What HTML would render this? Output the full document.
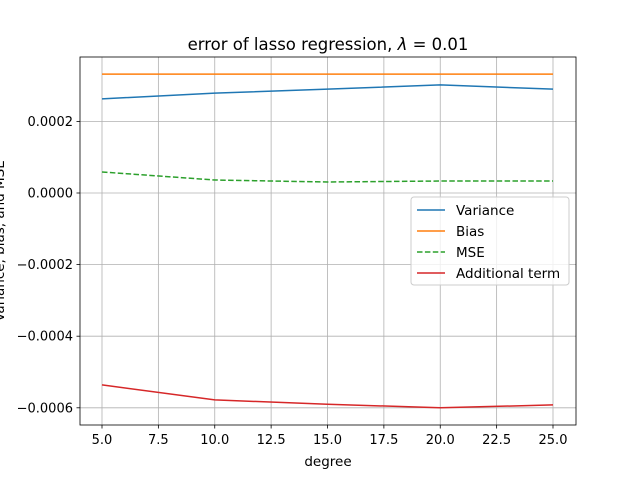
<!DOCTYPE html>
<html><head><meta charset="utf-8"><style>
body{margin:0;background:#fff;}
svg text{font-family:"DejaVu Sans","Liberation Sans",sans-serif;}
</style></head><body>
<svg id="chart" width="640" height="478" xmlns="http://www.w3.org/2000/svg">
<rect width="640" height="478" fill="#fff"/>
<g id="grid"></g>
<g id="series"></g>
<rect x="80" y="57" width="496" height="368" fill="none" stroke="#000" stroke-width="0.8"/>
<g id="axes"></g>
<text x="328" y="50" text-anchor="middle" font-size="16.5">error of lasso regression, <tspan font-style="italic">λ</tspan> = 0.01</text>
<text x="328" y="466" text-anchor="middle" font-size="13.5">degree</text>
<text transform="translate(4,241) rotate(-90)" text-anchor="middle" font-size="13.5">Variance, bias, and MSE</text>
<g>
<rect x="411" y="197" width="158" height="88" rx="3" fill="#fff" fill-opacity="0.8" stroke="#ccc"/>
<g id="legend-items"></g>
</g>
</svg>
<script>
const degrees=[5,10,15,20,25];
const variance=[0.000263,0.000279,0.000290,0.000302,0.000290];
const bias=[0.000332,0.000332,0.000332,0.000332,0.000332];
const mse=[0.0000587,0.0000363,0.0000307,0.0000335,0.0000335];
const additional=[-0.000536,-0.000578,-0.000590,-0.000600,-0.000592];
const xTicks=[5,7.5,10,12.5,15,17.5,20,22.5,25];
const xTickLabels=["5.0","7.5","10.0","12.5","15.0","17.5","20.0","22.5","25.0"];
const yTicks=[0.0002,0,-0.0002,-0.0004,-0.0006];
const yTickLabels=["0.0002","0.0000","\u22120.0002","\u22120.0004","\u22120.0006"];
const seriesNames=["Variance","Bias","MSE","Additional term"];
const NS="http://www.w3.org/2000/svg";
const X=v=>102+(v-5)*(451/20);
const Y=v=>193-v/0.0002*71.6;
function mk(t,a,p){const e=document.createElementNS(NS,t);for(const k in a)e.setAttribute(k,a[k]);p.appendChild(e);return e;}
const grid=document.getElementById('grid'),axes=document.getElementById('axes');
xTicks.forEach((t,i)=>{
 const g=mk('line',{x1:X(t),x2:X(t),y1:57,y2:425,stroke:'#b0b0b0','stroke-width':0.8},grid);
 
 
 mk('line',{x1:X(t),x2:X(t),y1:425,y2:428.5,stroke:'#000','stroke-width':0.8},axes);
 const tx=mk('text',{x:X(t),y:444,'text-anchor':'middle','font-size':13},axes);
 tx.textContent=xTickLabels[i];
 
 
});
yTicks.forEach((t,i)=>{
 const g=mk('line',{x1:80,x2:576,y1:Y(t),y2:Y(t),stroke:'#b0b0b0','stroke-width':0.8},grid);
 
 
 mk('line',{x1:76.5,x2:80,y1:Y(t),y2:Y(t),stroke:'#000','stroke-width':0.8},axes);
 const tx=mk('text',{x:73,y:Y(t)+4.5,'text-anchor':'end','font-size':13},axes);
 tx.textContent=yTickLabels[i];
 
 
});
const all=[variance,bias,mse,additional];
const colors=['#1f77b4','#ff7f0e','#2ca02c','#d62728'];
const dashes=['','','5.5,2.4',''];
const names=['variance-line','bias-line','mse-line','additional-term-line'];
const sg=document.getElementById('series'),lg=document.getElementById('legend-items');
all.forEach((s,k)=>{
 const p=mk('polyline',{points:s.map((v,i)=>X(degrees[i])+','+Y(v)).join(' '),fill:'none',stroke:colors[k],'stroke-width':1.5,'stroke-dasharray':dashes[k]},sg);
 
 
 const ly=210+k*21;
 mk('line',{x1:417,x2:445,y1:ly,y2:ly,stroke:colors[k],'stroke-width':1.5,'stroke-dasharray':dashes[k]},lg);
 const t=mk('text',{x:456,y:ly+5,'font-size':13.5},lg);
 t.textContent=seriesNames[k];
 
 
});
</script>
</body></html>
